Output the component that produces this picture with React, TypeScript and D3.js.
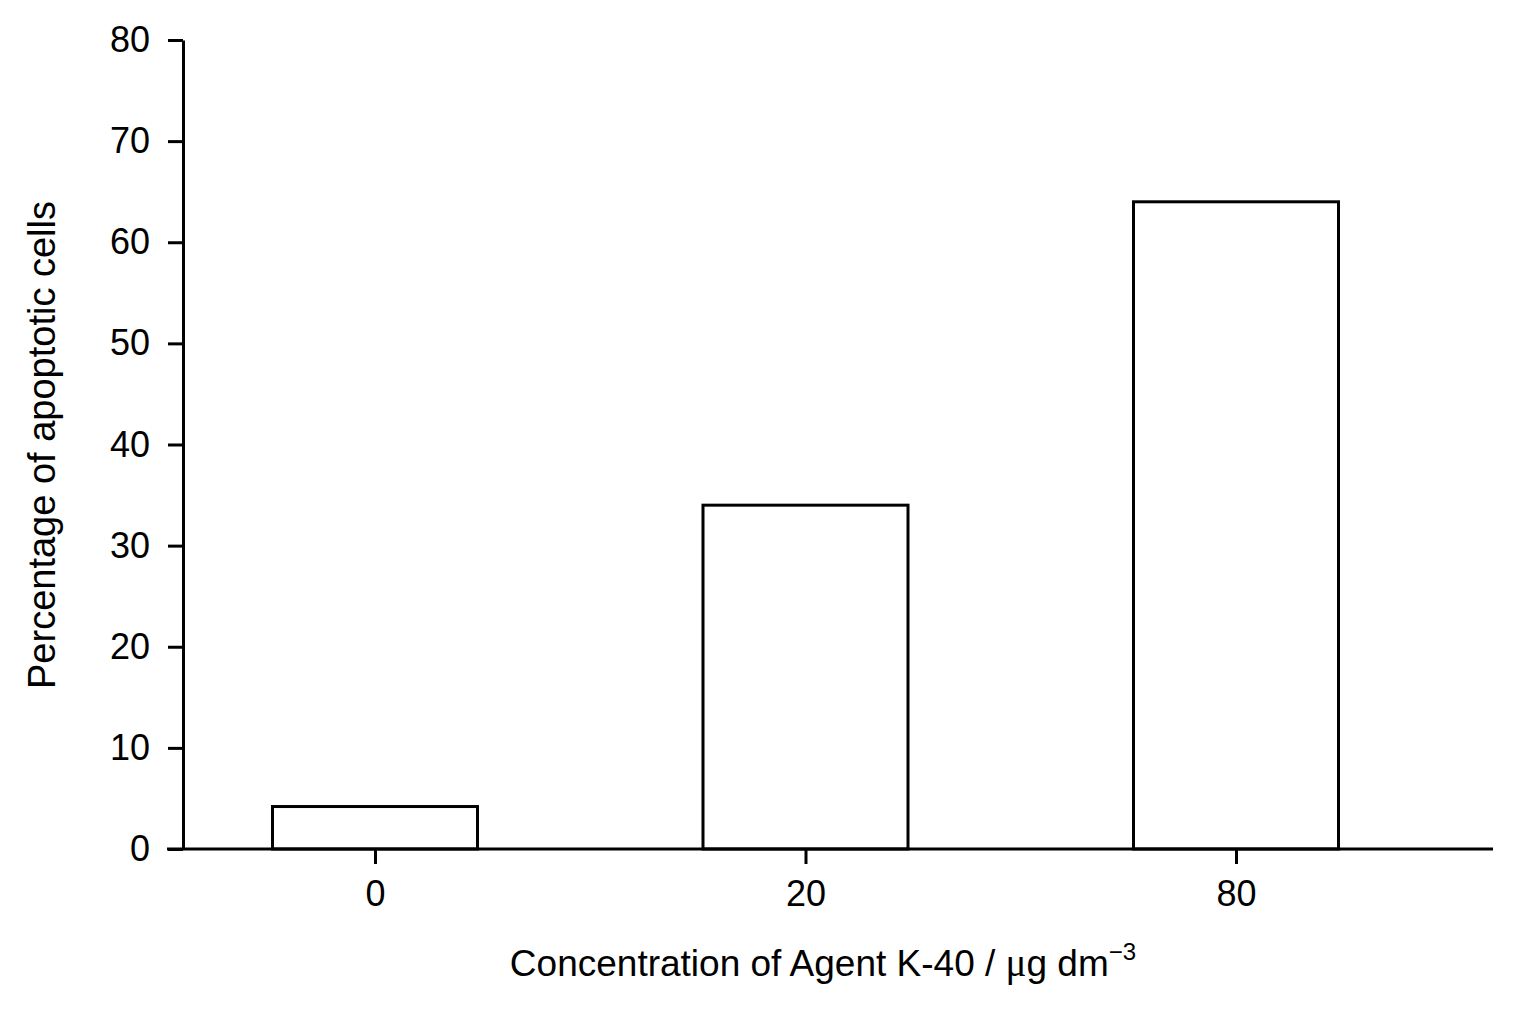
import React, { useEffect, useRef } from "react";
import * as d3 from "d3";

// concentrations shown on the x axis and the bar heights
const concentrations = ["0", "20", "80"];
const apoptoticPct = [4.2, 34, 64];
const yTicks = [0, 10, 20, 30, 40, 50, 60, 70, 80];

const W = 1536;
const H = 1024;
const FONT = "'Liberation Sans', Arial, sans-serif";
const SW = 3;

export default function App() {
	const svgRef = useRef<SVGSVGElement | any>();

	useEffect(() => {
		const svg = d3.select(svgRef.current);
		svg.selectAll("*").remove();

		const left = 183;
		const bottom = 849;

		const x = d3.scalePoint<string>().domain(concentrations).range([375, 1236]);
		const y = d3.scaleLinear().domain([0, 80]).range([bottom, 40]);
		const barW = 205;

		// bars
		svg
			.append("g")
			.selectAll("rect")
			.data(apoptoticPct)
			.join("rect")
			.attr("x", (d, i) => (x(concentrations[i]) as number) - barW / 2)
			.attr("y", (d) => y(d))
			.attr("width", barW)
			.attr("height", (d) => bottom - y(d))
			.attr("fill", "#fff")
			.attr("stroke", "#000")
			.attr("stroke-width", SW);

		// y axis
		const yAxis: any = d3
			.axisLeft(y)
			.tickValues(yTicks)
			.tickSize(15)
			.tickSizeOuter(0)
			.tickPadding(18);
		const gy = svg.append("g").attr("transform", `translate(${left},0)`).call(yAxis);
		gy.select(".domain").attr("stroke-width", SW);
		gy.selectAll(".tick line").attr("stroke-width", SW);
		gy.selectAll("text").attr("font-family", FONT).attr("font-size", 36).attr("fill", "#000");

		// x axis (the baseline is longer than the category range)
		svg
			.append("line")
			.attr("x1", 167)
			.attr("x2", 1493)
			.attr("y1", bottom)
			.attr("y2", bottom)
			.attr("stroke", "#000")
			.attr("stroke-width", SW);
		const xAxis: any = d3.axisBottom(x).tickSize(15).tickPadding(16);
		const gx = svg.append("g").attr("transform", `translate(0,${bottom})`).call(xAxis);
		gx.select(".domain").remove();
		gx.selectAll(".tick line").attr("stroke-width", SW);
		gx.selectAll("text").attr("font-family", FONT).attr("font-size", 36).attr("fill", "#000");

		// axis titles
		const xt = svg
			.append("text")
			.attr("x", 823)
			.attr("y", 976)
			.attr("text-anchor", "middle")
			.attr("font-family", FONT)
			.attr("font-size", 37)
			.attr("fill", "#000");
		xt.append("tspan").text("Concentration of Agent K-40 / ");
		xt.append("tspan").attr("font-family", "'Liberation Serif', serif").attr("font-size", 39).text("μ");
		xt.append("tspan").text("g dm");
		xt.append("tspan").attr("font-size", 24).attr("dy", -16).text("−3");

		svg
			.append("text")
			.attr("transform", `translate(55,445) rotate(-90)`)
			.attr("text-anchor", "middle")
			.attr("font-family", FONT)
			.attr("font-size", 38)
			.attr("fill", "#000")
			.text("Percentage of apoptotic cells");
	}, []);

	return (
		<svg
			ref={svgRef}
			width={W}
			height={H}
			style={{ position: "absolute", left: 0, top: 0, background: "#fff" }}
		/>
	);
}
